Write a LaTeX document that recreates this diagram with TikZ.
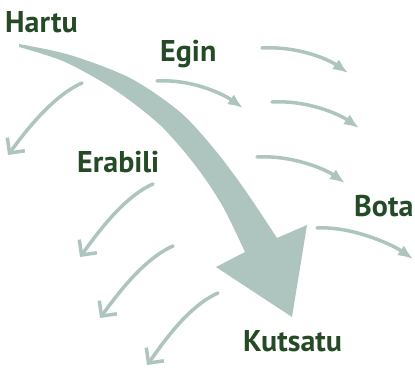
\documentclass[tikz,border=0pt]{standalone}
\usepackage{fontspec}
\setmainfont{PT Sans}
\usetikzlibrary{arrows.meta}
\definecolor{leaf}{HTML}{244A26}
\definecolor{sage}{HTML}{ADC4BF}
\tikzset{
  word/.style={text=leaf,inner sep=0pt,anchor=base west,font=\fontsize{30}{30}\selectfont\bfseries},
  flow/.style={sage,line width=3.5pt,line cap=round,-{Latex[length=15pt,width=12pt]}},
  fall/.style={sage,line width=3.5pt,line cap=round,-{Straight Barb[length=11pt,width=22pt]}}}

\begin{document}
\begin{tikzpicture}[x=1pt,y=-1pt]
\useasboundingbox (0,0) rectangle (415,371);
% big sweep
\fill[sage] plot[smooth] coordinates {(19,44) (70,55) (130,78) (180,112) (215,150) (245,190) (277,238)}
  -- (307,225) -- (292,317) -- (216,267) -- (245,252)
  -- plot[smooth] coordinates {(245,252) (222,205) (195,165) (160,125) (115,90) (65,62) (19,47)} -- cycle;
% small arrows
\foreach \sx/\sy/\ex/\ey in {262/48/348/73,272/102/359/128,257/157/345/183,157/81/243/108,317/228/413/259}
  \draw[flow] (\sx,\sy) .. controls +(35,-2) and +(-20,-14) .. (\ex,\ey);
\foreach \sx/\sy/\ex/\ey in {82/83/8/155,153/184/80/257,173/246/100/318,218/293/147/365}
  \draw[fall] (\sx,\sy) .. controls +(-32,14) and +(12,-16) .. (\ex,\ey);
% words
\node[word] (hartu) at (5,33) {Hartu};
\node[word] (egin) at (160,62) {Egin};
\node[word] (erabili) at (77,173) {Erabili};
\node[word] (bota) at (354,217) {Bota};
\node[word] (kutsatu) at (243,352) {Kutsatu};
\end{tikzpicture}
\end{document}
